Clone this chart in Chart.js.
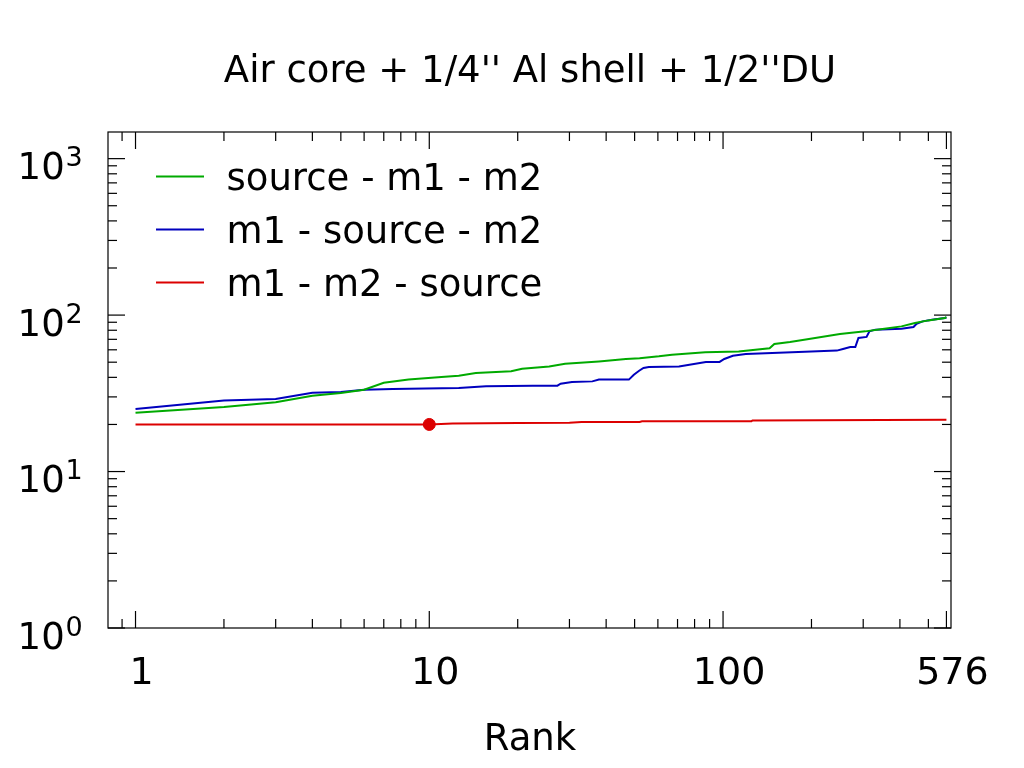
<!DOCTYPE html>
<html lang="en">

<head>
    <meta charset="UTF-8">
    <title>Air core + 1/4'' Al shell + 1/2''DU</title>
    <script src="https://cdn.jsdelivr.net/npm/chart.js"></script>
    <style>
        body { margin: 0; background: #fff; }
    </style>
</head>

<body>
    <canvas id="grafico" width="1024" height="768"></canvas>
</body>

</html>

<script>
    // dados (rank, valor)
    var ranks_green = [1, 2, 3, 4, 5, 6, 7, 8.5, 11, 12.6, 14.4, 19, 20.7, 25.6, 29, 37.8, 46.7, 52, 60.5, 67, 87, 113, 144, 149.5, 169, 196, 250, 305, 349, 405, 450, 500, 569, 576]
    var vals_green = [23.8, 25.9, 27.7, 30.5, 31.8, 33.3, 36.9, 38.7, 40.2, 41.0, 42.7, 43.7, 45.4, 47.0, 48.9, 50.6, 52.4, 53.0, 54.5, 55.8, 57.8, 58.6, 61.3, 65.3, 67.3, 70.3, 75.7, 78.7, 81.5, 84.7, 89.1, 92.5, 95.9, 97.0]

    var ranks_blue = [1, 2, 3, 4, 5, 6, 7.5, 12.6, 15.6, 22.5, 27.3, 28, 30.6, 35.9, 37.8, 47.8, 49.7, 51.8, 53.6, 55.9, 70.8, 87.4, 97.3, 101, 108, 119.5, 147, 190, 244, 256, 271, 282, 289, 308, 315, 330, 405, 445, 456, 478, 514, 569, 576]
    var vals_blue = [25.1, 28.4, 29.1, 31.9, 32.3, 33.3, 33.7, 34.2, 35.1, 35.4, 35.4, 36.4, 37.4, 37.7, 38.7, 38.7, 41.6, 44.1, 45.9, 46.6, 47.0, 50.2, 50.2, 52.4, 55.0, 56.4, 57.3, 58.4, 59.3, 60.7, 62.5, 62.5, 71.4, 72.5, 78.7, 80.7, 81.9, 84.0, 88.1, 91.2, 93.5, 95.9, 96.5]

    var ranks_red = [1, 10, 12, 20, 30, 33, 52, 53, 125, 126, 576]
    var vals_red = [20.0, 20.0, 20.3, 20.45, 20.5, 20.7, 20.75, 20.95, 21.0, 21.2, 21.4]

    var ponto_rank = [10]
    var ponto_val = [20.0]

    var nomes = ['source - m1 - m2', 'm1 - source - m2', 'm1 - m2 - source']
    var cores = ['rgb(0, 170, 0)', 'rgb(0, 0, 190)', 'rgb(220, 0, 0)']

    var x_major = [1, 10, 100, 576]
    var x_labels = ['1', '10', '100', '576']
    var x_minor = [0.9, 2, 3, 4, 5, 6, 7, 8, 9, 20, 30, 40, 50, 60, 70, 80, 90, 200, 300, 400, 500]
    var y_major = [1, 10, 100, 1000]
    var y_expoentes = ['0', '1', '2', '3']
    var y_minor = [2, 3, 4, 5, 6, 7, 8, 9, 20, 30, 40, 50, 60, 70, 80, 90, 200, 300, 400, 500, 600, 700, 800, 900]

    function pontos(xs, ys) {
        var lista = []
        for (var i = 0; i < xs.length; i++) {
            lista.push({ x: xs[i], y: ys[i] })
        }
        return lista
    }

    var fonte = 'DejaVu Sans'

    // moldura, ticks para dentro, rotulos, legenda e titulo
    var eixos = {
        id: 'eixos',
        afterDraw(chart) {
            var ctx = chart.ctx
            var a = chart.chartArea
            var x = chart.scales.x
            var y = chart.scales.y

            ctx.save()
            ctx.strokeStyle = '#000'
            ctx.lineWidth = 1.2
            ctx.strokeRect(a.left, a.top, a.right - a.left, a.bottom - a.top)

            function linha(x1, y1, x2, y2) {
                ctx.beginPath()
                ctx.moveTo(x1, y1)
                ctx.lineTo(x2, y2)
                ctx.stroke()
            }

            x_major.forEach(v => {
                var px = x.getPixelForValue(v)
                linha(px, a.bottom, px, a.bottom - 17)
                linha(px, a.top, px, a.top + 17)
            })
            x_minor.forEach(v => {
                var px = x.getPixelForValue(v)
                linha(px, a.bottom, px, a.bottom - 9)
                linha(px, a.top, px, a.top + 9)
            })
            y_major.forEach(v => {
                var py = y.getPixelForValue(v)
                linha(a.left, py, a.left + 17, py)
                linha(a.right, py, a.right - 17, py)
            })
            y_minor.forEach(v => {
                var py = y.getPixelForValue(v)
                linha(a.left, py, a.left + 9, py)
                linha(a.right, py, a.right - 9, py)
            })

            ctx.fillStyle = '#000'
            ctx.textBaseline = 'alphabetic'

            // rotulos do eixo x
            ctx.font = '38px "' + fonte + '"'
            ctx.textAlign = 'center'
            for (var i = 0; i < x_major.length; i++) {
                ctx.fillText(x_labels[i], x.getPixelForValue(x_major[i]) + 6, a.bottom + 56)
            }

            // rotulos do eixo y (10 com expoente)
            ctx.textAlign = 'left'
            for (var j = 0; j < y_major.length; j++) {
                var py = y.getPixelForValue(y_major[j])
                ctx.font = '37px "' + fonte + '"'
                ctx.fillText('10', 17.6, py + 20.5)
                ctx.font = '27px "' + fonte + '"'
                ctx.fillText(y_expoentes[j], 65.5, py + 7.5)
            }

            // titulos
            ctx.textAlign = 'center'
            ctx.font = '37px "' + fonte + '"'
            ctx.fillText("Air core + 1/4'' Al shell + 1/2''DU", 530, 82)
            ctx.fillText('Rank', 530, 750)

            // legenda
            ctx.textAlign = 'left'
            ctx.lineWidth = 2
            for (var k = 0; k < nomes.length; k++) {
                var ly = 176.5 + k * 53
                ctx.strokeStyle = cores[k]
                linha(156, ly, 204, ly)
                ctx.fillText(nomes[k], 226.5, ly + 13.5)
            }
            ctx.restore()
        }
    }

    var dados = {
        type: 'line',
        data: {
            datasets: [{
                label: nomes[0],
                data: pontos(ranks_green, vals_green),
                borderColor: cores[0],
                borderWidth: 2,
                pointRadius: 0,
                tension: 0
            }, {
                label: nomes[1],
                data: pontos(ranks_blue, vals_blue),
                borderColor: cores[1],
                borderWidth: 2,
                pointRadius: 0,
                tension: 0
            }, {
                label: nomes[2],
                data: pontos(ranks_red, vals_red),
                borderColor: cores[2],
                borderWidth: 2,
                pointRadius: 0,
                tension: 0
            }, {
                label: 'ponto',
                data: pontos(ponto_rank, ponto_val),
                showLine: false,
                pointRadius: 6,
                pointBackgroundColor: cores[2],
                pointBorderColor: cores[2],
                borderColor: cores[2]
            }]
        },
        options: {
            responsive: false,
            animation: false,
            devicePixelRatio: 1,
            layout: {
                padding: { left: 108, top: 132, right: 73, bottom: 140 }
            },
            plugins: {
                legend: { display: false },
                title: { display: false },
                tooltip: { enabled: false }
            },
            scales: {
                x: {
                    type: 'logarithmic',
                    display: false,
                    bounds: 'data',
                    min: 0.806,
                    max: 597
                },
                y: {
                    type: 'logarithmic',
                    display: false,
                    bounds: 'data',
                    min: 1,
                    max: 1480
                }
            }
        },
        plugins: [eixos]
    }

    var ctx = document.getElementById('grafico')
    var grafico = new Chart(ctx, dados)
</script>
